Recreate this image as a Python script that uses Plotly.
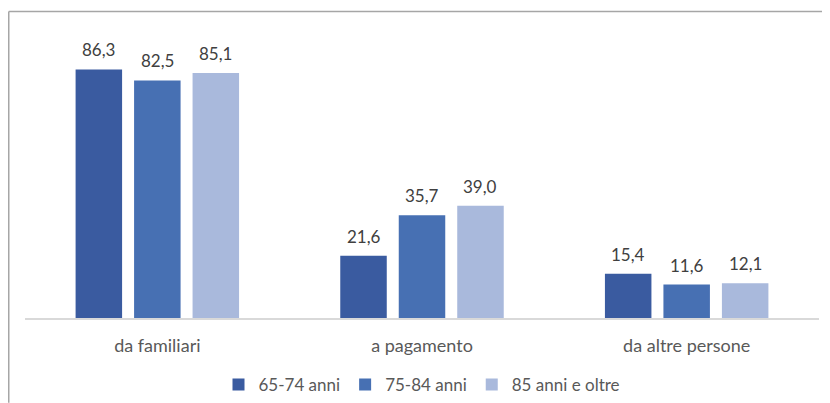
import plotly.graph_objects as go

categorie = ["da familiari", "a pagamento", "da altre persone"]
serie = ["65-74 anni", "75-84 anni", "85 anni e oltre"]
valori_65_74 = [86.3, 21.6, 15.4]
valori_75_84 = [82.5, 35.7, 11.6]
valori_85_oltre = [85.1, 39.0, 12.1]

colori = ["#3A5BA0", "#4770B3", "#A9B9DC"]

# la pagina ha un margine di 8px attorno alla figura
W, H = 822, 395
ml, mr, mt, mb = 17, 11, 21.5, 85
plot_w = W - ml - mr
plot_h = H - mt - mb
bargap = 0.337

fig = go.Figure()
tutte = [valori_65_74, valori_75_84, valori_85_oltre]
for nome, valori, colore in zip(serie, tutte, colori):
    fig.add_trace(go.Bar(
        x=categorie,
        y=valori,
        name=nome,
        marker=dict(color=colore, line=dict(width=0)),
    ))

# etichette dei valori sopra le barre
slot = plot_w / len(categorie) * (1 - bargap) / len(serie)
for i, valori in enumerate(tutte):
    for cat, v in zip(categorie, valori):
        fig.add_annotation(
            x=cat, y=v, xref="x", yref="y",
            text=f"{v:.1f}".replace(".", ","),
            showarrow=False,
            yanchor="bottom",
            xshift=(i - 1) * slot,
            yshift=7,
            font=dict(size=17, color="#404040"),
        )

# cornice del grafico (solo lati alto e sinistro visibili)
bx, by = 0.75, 3
fig.add_shape(type="line", xref="paper", yref="paper",
              x0=(bx - ml) / plot_w, x1=(W - ml) / plot_w,
              y0=1 + (mt - by) / plot_h, y1=1 + (mt - by) / plot_h,
              line=dict(color="#A6A6A6", width=1.5))
fig.add_shape(type="line", xref="paper", yref="paper",
              x0=(bx - ml) / plot_w, x1=(bx - ml) / plot_w,
              y0=1 + (mt - by) / plot_h, y1=-mb / plot_h,
              line=dict(color="#A6A6A6", width=1.5))

fig.update_layout(
    width=W,
    height=H,
    margin=dict(l=ml, r=mr, t=mt, b=mb, autoexpand=False),
    paper_bgcolor="white",
    plot_bgcolor="white",
    barmode="group",
    bargap=bargap,
    bargroupgap=0.205,
    font=dict(family="Lato", size=18, color="#595959"),
    showlegend=True,
    legend=dict(
        orientation="h",
        x=0.5,
        xanchor="center",
        y=-(377 - (H - mb)) / plot_h,
        yanchor="middle",
        font=dict(size=17, color="#595959"),
        itemwidth=30,
        traceorder="normal",
    ),
)
fig.update_xaxes(
    showline=True,
    linecolor="#D9D9D9",
    linewidth=1.5,
    showgrid=False,
    ticks="",
    ticklabelstandoff=11,
    tickfont=dict(size=18, color="#595959"),
)
fig.update_yaxes(
    range=[0, 100],
    visible=False,
    showgrid=False,
)

fig.write_html("out.html")
